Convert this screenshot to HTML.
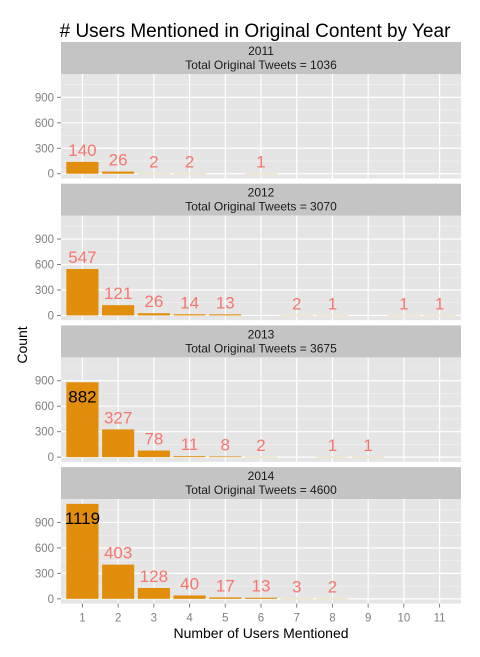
<!DOCTYPE html>
<html><head><meta charset="utf-8"><style>
body{margin:0;background:#fff;font-family:"Liberation Sans",sans-serif}
</style></head><body>
<svg id="chart" width="480" height="652" xmlns="http://www.w3.org/2000/svg" font-family="Liberation Sans, sans-serif"></svg>
<script>
const years = ["2011","2012","2013","2014"];
const totals = [1036, 3070, 3675, 4600];
const cats2011 = [1,2,3,4,6];
const vals2011 = [140,26,2,2,1];
const cats2012 = [1,2,3,4,5,7,8,10,11];
const vals2012 = [547,121,26,14,13,2,1,1,1];
const cats2013 = [1,2,3,4,5,6,8,9];
const vals2013 = [882,327,78,11,8,2,1,1];
const cats2014 = [1,2,3,4,5,6,7,8];
const vals2014 = [1119,403,128,40,17,13,3,2];
const yTicks = [0,300,600,900];
const xTicks = [1,2,3,4,5,6,7,8,9,10,11];

const cats = [cats2011,cats2012,cats2013,cats2014];
const vals = [vals2011,vals2012,vals2013,vals2014];
const svg = document.getElementById('chart');
const NS = "http://www.w3.org/2000/svg";
function mk(tag, attrs, parent){const e=document.createElementNS(NS,tag);for(const k in attrs)e.setAttribute(k,attrs[k]);(parent||svg).appendChild(e);return e;}
const L=61,R=461;
const xs = v => L + (v-0.4)/(11.2)*(R-L);
const bw = 0.9*(R-L)/11.2;
const yMin=-56, yMax=1175;
const maxAll = Math.max(...vals.flat());

let t=mk('text',{x:255,y:37,'font-size':19,'text-anchor':'middle',fill:'#000'});


t.textContent='# Users Mentioned in Original Content by Year';

for(let p=0;p<4;p++){
  const top=42+p*141.7, ptop=top+32, pbot=ptop+104.5;
  const ys = v => pbot - (v-yMin)/(yMax-yMin)*(pbot-ptop);
  const g=mk('g',{});
  
  
  let s=mk('rect',{x:L,y:top,width:R-L,height:32,fill:'#C4C4C4'},g);
  
  
  let st=mk('text',{x:(L+R)/2,y:top+13,'font-size':12,'text-anchor':'middle',fill:'#1a1a1a'},g);
  
  
  st.textContent=years[p];
  let st2=mk('text',{x:(L+R)/2,y:top+27,'font-size':12,'text-anchor':'middle',fill:'#1a1a1a'},g);
  
  
  st2.textContent='Total Original Tweets = '+totals[p];
  let bg=mk('rect',{x:L,y:ptop,width:R-L,height:pbot-ptop,fill:'#E5E5E5'},g);
  
  
  for(let i=0;i<yTicks.length;i++){
    const m=yTicks[i]+150; const ym=ys(m);
    if(ym>ptop) mk('line',{x1:L,x2:R,y1:ym,y2:ym,stroke:'#F2F2F2','stroke-width':0.6},g);
  }
  if(ys(-150)<pbot) {}
  yTicks.forEach(v=>{const y=ys(v);
    mk('line',{x1:L,x2:R,y1:y,y2:y,stroke:'#fff','stroke-width':1.2},g);
    mk('line',{x1:L-4,x2:L,y1:y,y2:y,stroke:'#7f7f7f','stroke-width':1},g);
    let tl=mk('text',{x:L-7,y:y+4,'font-size':11.5,'text-anchor':'end',fill:'#7f7f7f'},g);
    
    
    tl.textContent=v;
  });
  xTicks.forEach(v=>{const x=xs(v);
    mk('line',{x1:x,x2:x,y1:ptop,y2:pbot,stroke:'#fff','stroke-width':1.2},g);
    if(p===3){
      mk('line',{x1:x,x2:x,y1:pbot,y2:pbot+4,stroke:'#7f7f7f'},g);
      let xl=mk('text',{x:x,y:pbot+18,'font-size':11.5,'text-anchor':'middle',fill:'#7f7f7f'},g);
      
      
      xl.textContent=v;
    }
  });
  cats[p].forEach((c,i)=>{
    const v=vals[p][i]; const x=xs(c)-bw/2;
    const y0=ys(0), y1=ys(v);
    const fill = v>=8 ? '#E08E0B' : '#EFE6D3';
    let b=mk('rect',{x:x,y:Math.min(y0,y1)-(v<8?1:0),width:bw,height:Math.max(Math.abs(y0-y1),v<8?2:0),fill:fill},g);
    
    
    const big = v > 0.7*maxAll;
    let lb=mk('text',{x:xs(c),y:big? y1+20 : y1-6,'font-size':17,'text-anchor':'middle',fill: big?'#000':'#F8766D'},g);
    
    
    lb.textContent=v;
  });
}
t=mk('text',{x:(L+R)/2,y:638,'font-size':14,'text-anchor':'middle',fill:'#000'});


t.textContent='Number of Users Mentioned';
t=mk('text',{x:0,y:0,'font-size':14,'text-anchor':'middle',fill:'#000',transform:'translate(27,345) rotate(-90)'});


t.textContent='Count';
</script>
</body></html>
